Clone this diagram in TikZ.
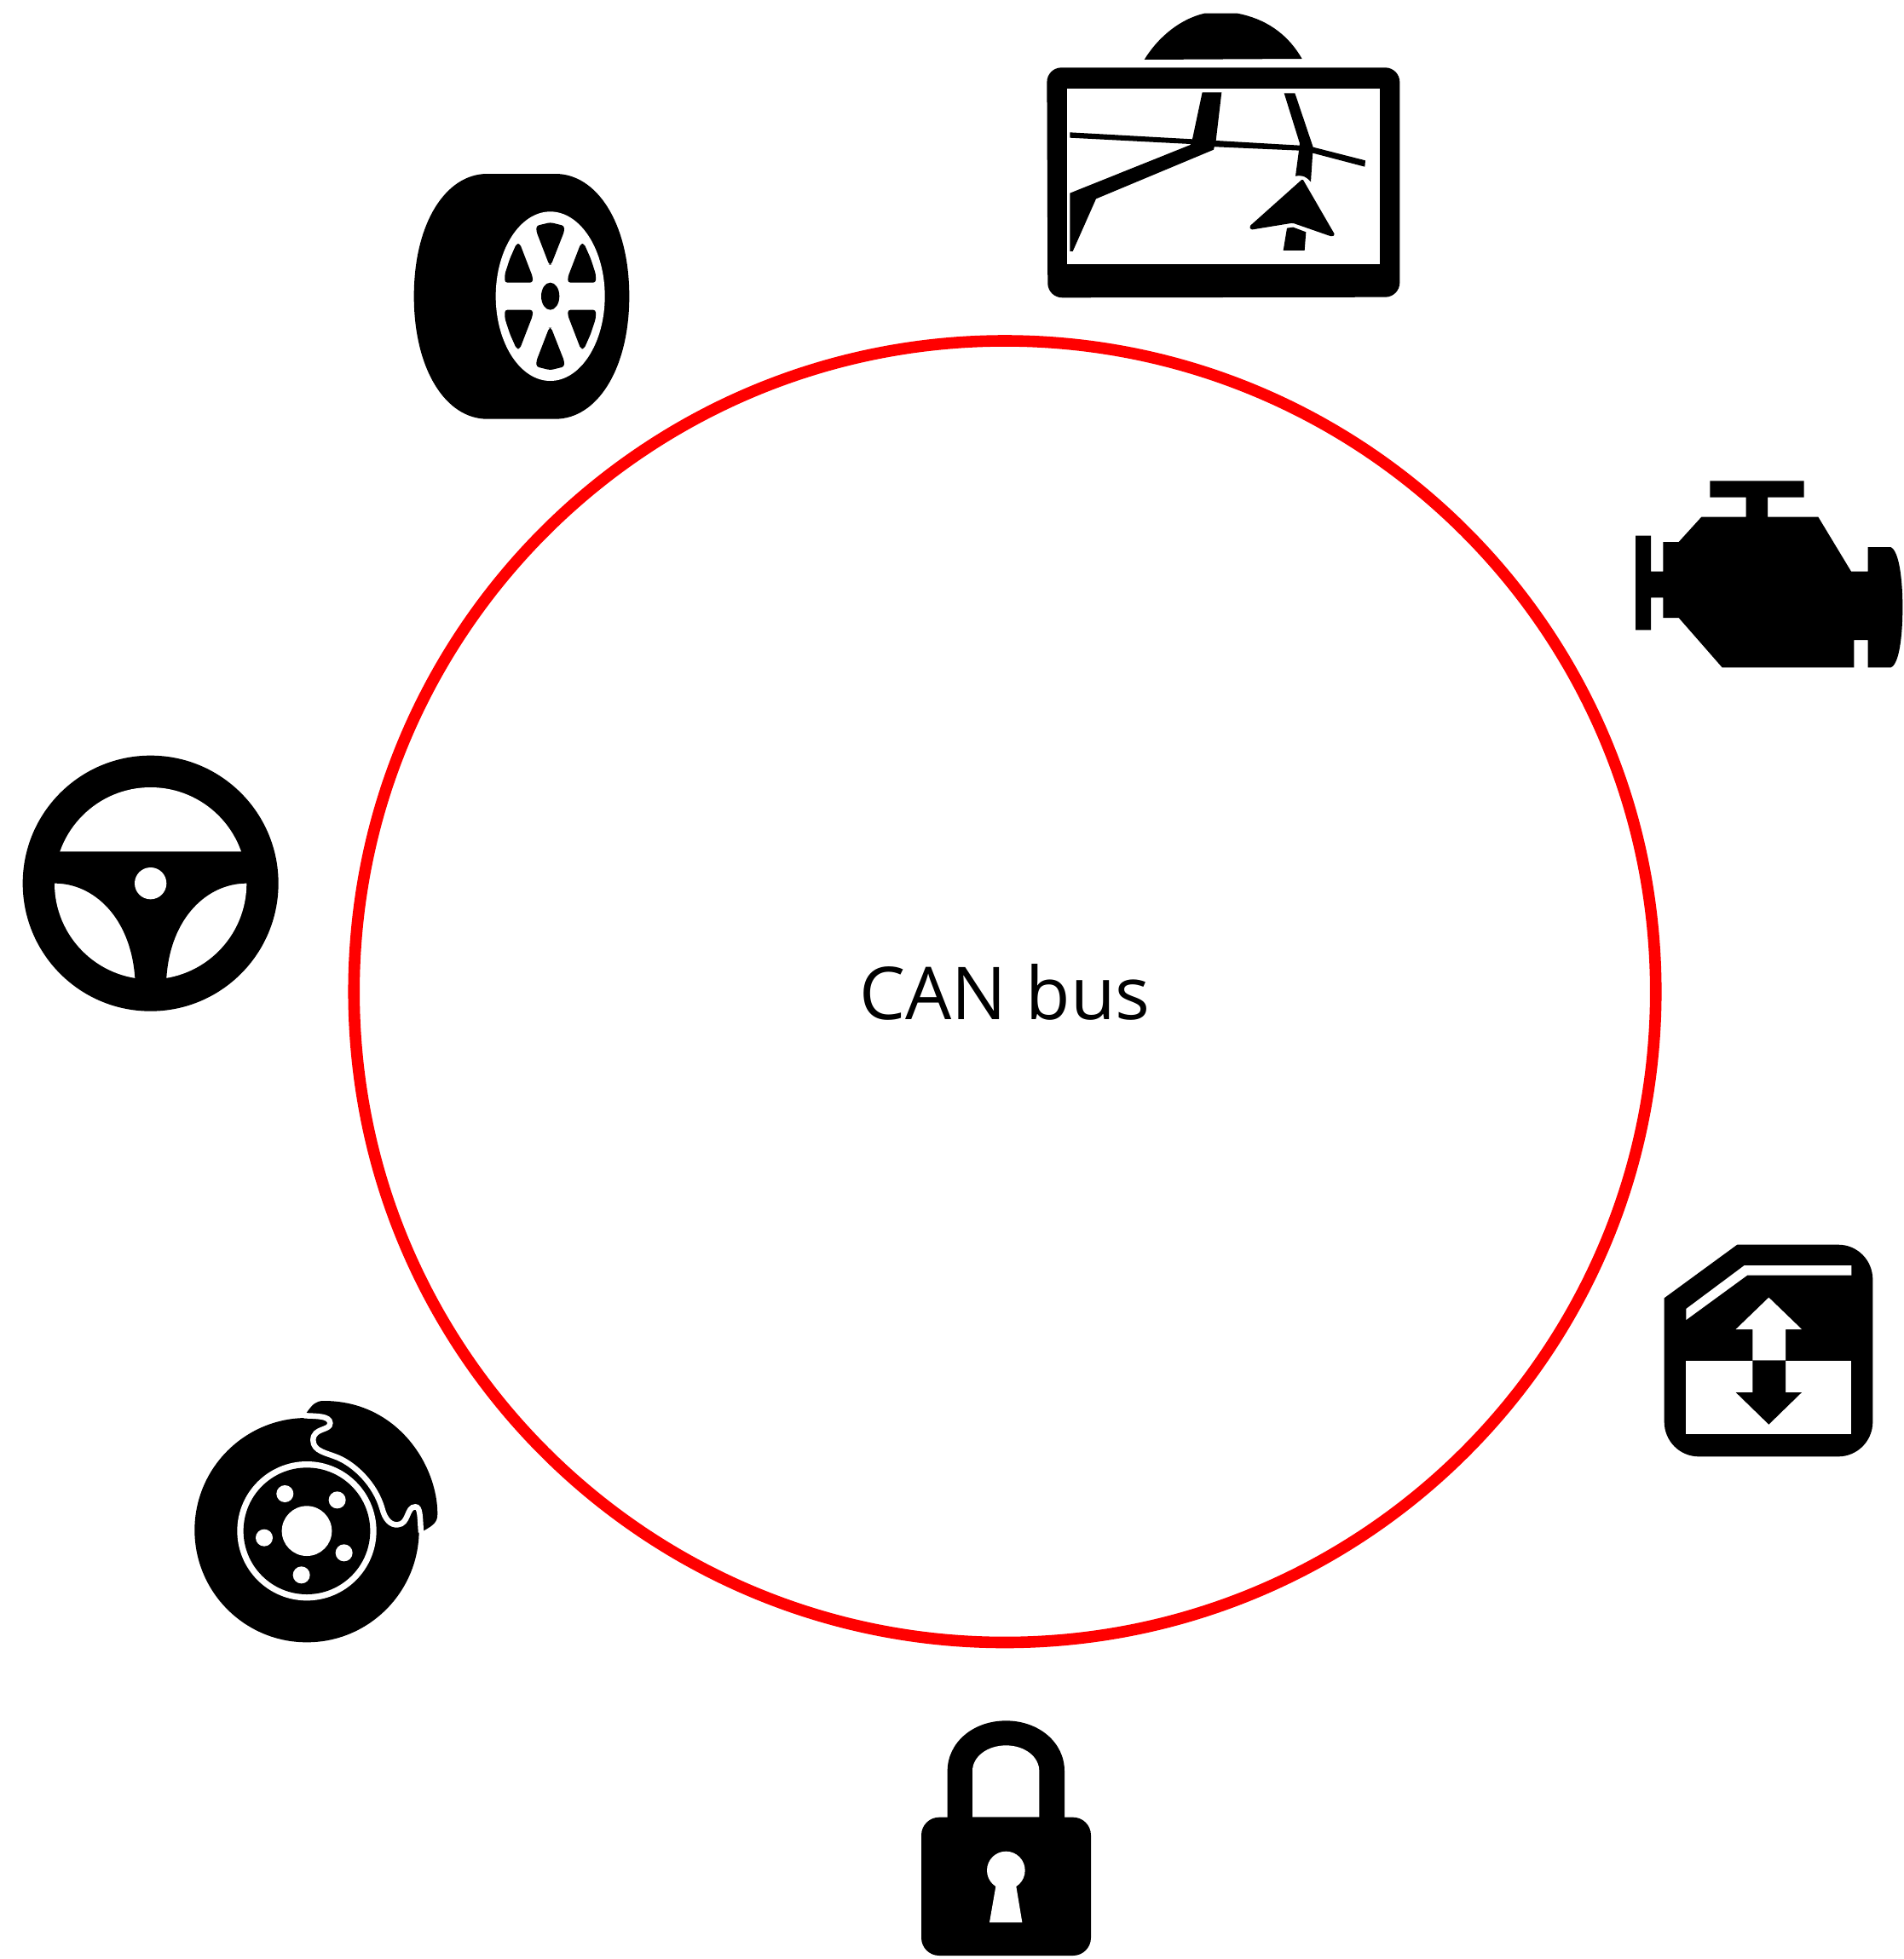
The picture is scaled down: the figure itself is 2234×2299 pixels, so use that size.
\documentclass[tikz,border=0pt]{standalone}
\usepackage{fontspec}
\setmainfont{Open Sans}
\tikzset{
  icon/.style 2 args={xshift=#1pt,yshift=-#2pt,x=.33333pt,y=-.33333pt},
  ink/.style={fill=black},
  hole/.style={fill=white},
  soft/.style={rounded corners=1.5pt},
  soft2/.style={rounded corners=3pt},
  busring/.style={draw=red,line width=13.6pt},
  buslabel/.style={inner sep=0pt,anchor=base,font=\fontsize{85.6}{100}\selectfont}
}
\begin{document}
\begin{tikzpicture}[x=1pt,y=-1pt]
\useasboundingbox (0,0) rectangle (2234,2299);
\fill[white] (0,0) rectangle (2234,2299);

% bus ring and label
\draw[busring] (1179,1163.75) circle[radius=763.75];
\node[buslabel] (canbus) at (1179,1196) {CAN bus};

% navigation display
\begin{scope}[icon={1200}{0}]
  \path[ink] (428,210) .. controls (480,125) and (560,65) .. (640,47) -- (755,47) .. controls (850,65) and (930,115) .. (983,207) -- cycle;
  \path[ink,rounded corners=17pt] (85,238) -- (1327,238) -- (1327,1046) -- (88,1048) -- cycle;
  \path[hole] (155,311) rectangle (1257,930);
  \path[ink] (166,466) -- (597,490) -- (680,495) -- (975,512) -- (1022,518) -- (1206,565) -- (1204,587) -- (1025,540) -- (975,530) -- (680,517) -- (590,507) -- (166,485) -- cycle;
  \path[ink] (632,325) -- (700,325) -- (680,495) -- (672,527) -- (258,700) -- (176,885) -- (166,885) -- (166,680) -- (590,510) -- (597,490) -- cycle;
  \path[ink] (920,328) -- (958,328) -- (1022,518) -- (1014,640) .. controls (1005,630) and (995,622) .. (985,620) .. controls (975,618) and (968,618) .. (960,620) -- (972,530) -- (975,505) -- cycle;
  \path[ink,soft] (985,630) -- (1099,827) -- (1088,833) -- (950,785) -- (803,809) -- (798,797) -- cycle;
  \path[ink] (930,803) -- (952,800) -- (997,817) -- (992,882) -- (917,882) -- cycle;
\end{scope}

% tyre
\begin{scope}[icon={470}{190}]
  \path[ink] (305,42) -- (545,42) .. controls (690,42) and (805,214) .. (805,473) .. controls (805,732) and (690,905) .. (545,905) -- (305,905) .. controls (160,905) and (47,732) .. (47,473) .. controls (47,214) and (160,42) .. (305,42) -- cycle;
  \path[hole] (527,473) ellipse[x radius=192,y radius=298];
  \path[ink] (527,473) ellipse[x radius=32,y radius=48];
  \path[ink,soft2] (478,225) -- (527,213) -- (576,225) -- (576,245) -- (530,362) -- (523,362) -- (478,245) -- cycle;
  \path[ink,soft2] (478,721) -- (527,733) -- (576,721) -- (576,701) -- (530,584) -- (523,584) -- (478,701) -- cycle;
  \path[ink,soft2] (367,425) -- (367,395) -- (385,340) -- (408,288) -- (420,288) -- (465,405) -- (465,425) -- cycle;
  \path[ink,soft2] (687,425) -- (687,395) -- (669,340) -- (646,288) -- (634,288) -- (589,405) -- (589,425) -- cycle;
  \path[ink,soft2] (367,521) -- (367,551) -- (385,606) -- (408,658) -- (420,658) -- (465,541) -- (465,521) -- cycle;
  \path[ink,soft2] (687,521) -- (687,551) -- (669,606) -- (646,658) -- (634,658) -- (589,541) -- (589,521) -- cycle;
\end{scope}

% engine
\begin{scope}[icon={1900}{540}]
  \path[ink] (319,73) -- (650,73) -- (650,131) -- (522,131) -- (522,200) -- (700,200) -- (816,392) -- (875,392) -- (875,306) -- (955,306) .. controls (985,320) and (997,420) .. (997,518) .. controls (997,620) and (985,720) .. (955,730) -- (875,730) -- (875,633) -- (826,633) -- (826,730) -- (362,730) -- (209,555) -- (154,555) -- (154,484) -- (111,484) -- (111,598) -- (57,598) -- (57,266) -- (111,266) -- (111,392) -- (154,392) -- (154,288) -- (209,288) -- (289,200) -- (446,200) -- (446,131) -- (319,131) -- cycle;
\end{scope}

% steering wheel
\begin{scope}[icon={10}{870}]
  \path[ink] (500,500) circle[radius=450];
  \path[hole] (500,500) circle[radius=338];
  \path[ink] (150,388) -- (850,388) -- (850,500) -- (838,500) .. controls (700,500) and (570,620) .. (556,832) -- (556,860) -- (445,860) -- (445,832) .. controls (430,620) and (300,500) .. (163,500) -- (150,500) -- cycle;
  \path[hole] (500,500) circle[radius=56];
\end{scope}

% window lift
\begin{scope}[icon={1930}{1440}]
  \path[ink] (68,250) -- (325,62) -- (680,62) .. controls (748,62) and (802,117) .. (802,185) -- (802,685) .. controls (802,753) and (748,808) .. (680,808) -- (190,808) .. controls (122,808) and (68,753) .. (68,685) -- cycle;
  \path[hole] (145,288) -- (350,135) -- (727,135) -- (727,170) -- (360,170) -- (145,327) -- cycle;
  \path[hole] (145,470) rectangle (727,730);
  \path[hole] (436,248) -- (552,360) -- (495,360) -- (495,470) -- (379,470) -- (379,360) -- (320,360) -- cycle;
  \path[ink] (379,470) -- (495,470) -- (495,582) -- (552,582) -- (436,695) -- (320,582) -- (379,582) -- cycle;
\end{scope}

% padlock
\begin{scope}[icon={1060}{2000}]
  \path[ink] (155,400) -- (155,235) .. controls (155,135) and (245,58) .. (361,58) .. controls (477,58) and (567,135) .. (567,235) -- (567,400) -- cycle;
  \path[hole] (243,398) -- (243,235) .. controls (243,185) and (295,145) .. (361,145) .. controls (427,145) and (478,185) .. (478,235) -- (478,398) -- cycle;
  \path[ink,rounded corners=21pt] (63,398) rectangle (660,885);
  \path[hole] (361,585) circle[radius=67];
  \path[hole] (327,630) -- (303,768) -- (418,768) -- (395,630) -- cycle;
\end{scope}

% brake disc
\begin{scope}[icon={200}{1620}]
  \path[ink] (480,527) circle[radius=395];
  \path[ink] (478,115) .. controls (520,120) and (560,125) .. (562,150) .. controls (563,178) and (503,165) .. (502,210) .. controls (502,250) and (550,255) .. (590,272) .. controls (650,298) and (720,365) .. (745,450) .. controls (755,490) and (775,510) .. (800,508) .. controls (840,505) and (830,445) .. (862,445) .. controls (880,445) and (878,480) .. (882,530) -- (890,530) .. controls (925,510) and (940,500) .. (940,470) .. controls (940,300) and (800,72) .. (540,72) .. controls (510,72) and (500,85) .. (478,115) -- cycle;
  \draw[white,line width=6.5pt] (470,124) .. controls (520,126) and (560,125) .. (562,150) .. controls (563,178) and (503,165) .. (502,210) .. controls (502,250) and (550,255) .. (590,272) .. controls (650,298) and (720,365) .. (745,450) .. controls (755,490) and (775,510) .. (800,508) .. controls (840,505) and (830,445) .. (862,445) .. controls (880,445) and (878,480) .. (882,535);
  \path[hole] (480,530) circle[radius=245];
  \path[ink] (480,530) circle[radius=223];
  \path[hole] (480,530) circle[radius=88];
  \path[hole] (403,399) circle[radius=30];
  \path[hole] (587,421) circle[radius=30];
  \path[hole] (330,554) circle[radius=30];
  \path[hole] (611,607) circle[radius=30];
  \path[hole] (461,685) circle[radius=30];
\end{scope}
\end{tikzpicture}
\end{document}
